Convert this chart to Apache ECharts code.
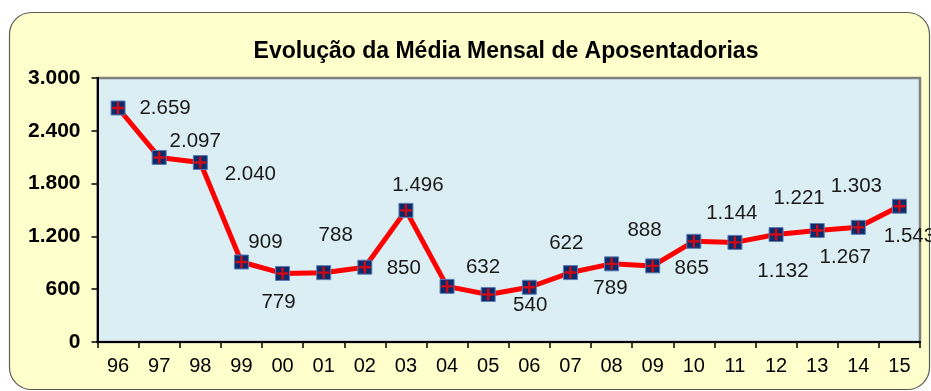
<!DOCTYPE html>
<html>
<head>
<meta charset="utf-8">
<script src="https://cdn.jsdelivr.net/npm/echarts@6/dist/echarts.min.js"></script>
<style>
  html, body { margin: 0; padding: 0; background: #ffffff; }
  #chart { width: 931px; height: 391px; }
</style>
</head>
<body>
<div id="chart"></div>
<script>
// Anos (dois dígitos) e média mensal de aposentadorias concedidas
const anos = ['96','97','98','99','00','01','02','03','04','05','06','07','08','09','10','11','12','13','14','15'];
const medias = [2659, 2097, 2040, 909, 779, 788, 850, 1496, 632, 540, 622, 789, 888, 865, 1144, 1132, 1221, 1267, 1303, 1543];
const yTicks = [0, 600, 1200, 1800, 2400, 3000];

// Deslocamento de cada rótulo em relação ao marcador (px)
const rotuloDesloc = [
  [47, 0], [36, -16], [50, 12], [24, -20], [-4, 29], [12, -37], [39, 1], [12, -25],
  [36, -19], [42, 11], [37, -44], [40, 16], [33, -34], [39, 2], [38, -28], [48, 29],
  [23, -36], [28, 27], [-2, -41], [10, 30]
];

function milhar(v) {
  return String(v).replace(/\B(?=(\d{3})+(?!\d))/g, '.');
}

const chart = echarts.init(document.getElementById('chart'), null, { renderer: 'canvas' });

const fonte = 'Liberation Sans, Arial, sans-serif';

const option = {
  animation: false,
  backgroundColor: '#ffffff',
  graphic: [
    {
      type: 'rect',
      z: -10,
      silent: true,
      shape: { x: 9.5, y: 12.5, width: 920, height: 377, r: 22 },
      style: { fill: '#FFFFCC', stroke: '#5a5a5a', lineWidth: 1.2 }
    }
  ],
  title: {
    text: 'Evolução da Média Mensal de Aposentadorias',
    left: 501,
    textAlign: 'center',
    top: 35,
    textStyle: { fontFamily: fonte, fontSize: 23, fontWeight: 'bold', color: '#000000' }
  },
  grid: {
    left: 97.5,
    right: 11,
    top: 78,
    bottom: 49,
    show: true,
    backgroundColor: '#DBEEF4',
    borderColor: '#808080',
    borderWidth: 2.5
  },
  xAxis: {
    type: 'category',
    data: anos,
    boundaryGap: true,
    axisLine: { show: true, lineStyle: { color: '#000000', width: 2 } },
    axisTick: { show: true, length: 6, alignWithLabel: false, lineStyle: { color: '#000000', width: 1.5 } },
    axisLabel: { margin: 14, fontFamily: fonte, fontSize: 20, color: '#000000' },
    splitLine: { show: false }
  },
  yAxis: {
    type: 'value',
    min: yTicks[0],
    max: yTicks[yTicks.length - 1],
    interval: yTicks[1] - yTicks[0],
    axisLine: { show: true, lineStyle: { color: '#000000', width: 2 } },
    axisTick: { show: true, length: 6, lineStyle: { color: '#000000', width: 1.5 } },
    axisLabel: {
      margin: 17,
      fontFamily: fonte,
      fontSize: 21,
      fontWeight: 'bold',
      color: '#000000',
      formatter: milhar
    },
    splitLine: { show: false }
  },
  series: [
    {
      name: 'Média mensal',
      type: 'line',
      data: medias.map((v, i) => ({
        value: v,
        label: { offset: rotuloDesloc[i] }
      })),
      lineStyle: { color: '#FF0000', width: 5 },
      itemStyle: { color: '#0C2B6B', borderColor: '#5B7FB5', borderWidth: 1 },
      symbol: 'rect',
      symbolSize: 14,
      showAllSymbol: true,
      z: 3,
      label: {
        show: true,
        position: 'inside',
        formatter: p => milhar(p.value),
        fontFamily: fonte,
        fontSize: 20.5,
        color: '#1a1a1a'
      }
    },
    {
      name: 'Cruz',
      type: 'scatter',
      data: medias,
      symbol: 'path://M4,0H6V4H10V6H6V10H4V6H0V4H4Z',
      symbolSize: 12,
      itemStyle: { color: '#FF0000' },
      z: 5,
      silent: true
    }
  ]
};

chart.setOption(option);
</script>
</body>
</html>
